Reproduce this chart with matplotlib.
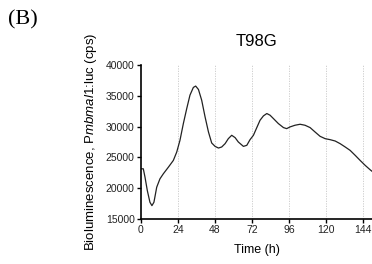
import numpy as np
import matplotlib
matplotlib.use("Agg")
import matplotlib.pyplot as plt

plt.rcParams["font.family"] = ["Liberation Sans", "DejaVu Sans"]
plt.rcParams["mathtext.fontset"] = "custom"
plt.rcParams["mathtext.it"] = "Liberation Sans:italic"
plt.rcParams["mathtext.rm"] = "Liberation Sans"

# T98G 생물발광 궤적
time_h = [0.4, 1.5, 2.6, 4.1, 5.8, 7.1, 8.4, 10.2, 12.3, 14.5, 17.8, 21.0, 23.2,
          25.3, 27.5, 29.7, 31.8, 34.0, 35.5, 37.3, 39.4, 41.6, 43.8, 45.9, 48.1,
          50.3, 52.4, 54.6, 56.7, 58.9, 61.1, 63.2, 66.5, 68.7, 70.8, 73.0, 75.2,
          77.3, 79.5, 81.7, 83.8, 86.0, 89.2, 92.5, 94.6, 96.8, 100.0, 103.3,
          106.5, 109.8, 113.0, 116.3, 119.6, 122.8, 126.1, 129.3, 132.6, 135.8,
          139.1, 142.3, 145.6, 148.8, 150.0]
cps = [23150, 23150, 21790, 19620, 17720, 17170, 17720, 20160, 21520, 22340,
       23420, 24510, 25870, 27770, 30490, 32930, 35110, 36360, 36580, 36030,
       34290, 31580, 29130, 27340, 26790, 26520, 26690, 27230, 28040, 28590,
       28210, 27500, 26790, 26960, 27880, 28590, 29840, 31030, 31740, 32120,
       31850, 31300, 30490, 29840, 29670, 29950, 30220, 30380, 30220, 29840,
       29130, 28420, 28040, 27880, 27660, 27230, 26690, 26140, 25330, 24510,
       23700, 22990, 22750]
xticks = [0, 24, 48, 72, 96, 120, 144]
yticks = [15000, 20000, 25000, 30000, 35000, 40000]

fig = plt.figure(figsize=(3.72, 2.64), dpi=100)
ax = fig.add_axes([141 / 372, 1 - 219 / 264, 1 - 141 / 372, (219 - 65) / 264])

for t in xticks[1:]:
    ax.axvline(t, color="#c8c8c8", lw=0.6, ls=(0, (1.5, 1.5)), zorder=0)
ax.plot(time_h, cps, color="#222222", lw=0.9)

ax.set_xlim(0, 150)
ax.set_ylim(15000, 40000)
ax.set_xticks(xticks)
ax.set_yticks(yticks)
ax.tick_params(labelsize=7.5, length=3, width=1, pad=1.5, labelcolor="#222222")
for s in ("top", "right"):
    ax.spines[s].set_visible(False)
for s in ("left", "bottom"):
    ax.spines[s].set_linewidth(1.2)
ax.set_xlabel("Time (h)", fontsize=9, labelpad=6)
ax.set_ylabel(r"Bioluminescence, P$\it{mbmal1}$:luc (cps)", fontsize=9.5, labelpad=5)
ax.set_title("T98G", fontsize=12, pad=14)

fig.text(8 / 372, 1 - 20 / 264, "(B)", family="Liberation Serif", fontsize=16,
         ha="left", va="center")

fig.savefig("out.png", dpi=100)
